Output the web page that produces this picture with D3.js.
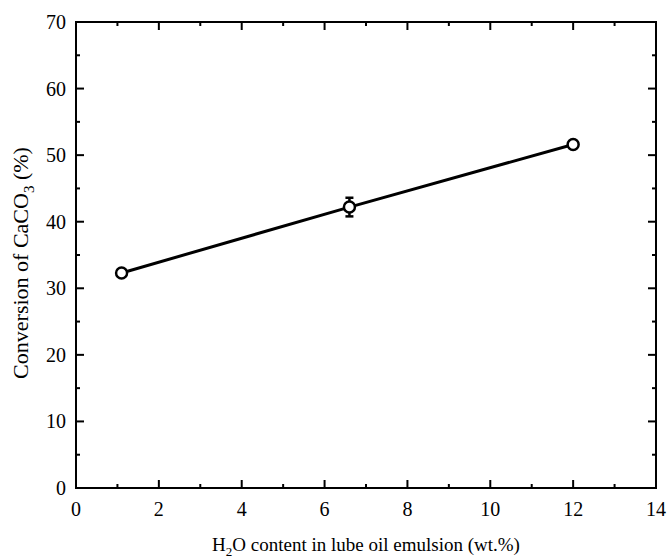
<!DOCTYPE html>
<html>
<head>
<meta charset="utf-8">
<script src="https://cdn.jsdelivr.net/npm/d3@7"></script>
<style>
  body { margin: 0; background: #fff; }
  text { font-family: "Liberation Serif", "Times New Roman", serif; }
</style>
</head>
<body>
<svg id="chart"></svg>
<script>
const waterContent = [1.1, 6.6, 12];
const conversion = [32.3, 42.2, 51.6];
const conversionErr = [0, 1.4, 0];
const xTicks = [0, 2, 4, 6, 8, 10, 12, 14];
const yTicks = [0, 10, 20, 30, 40, 50, 60, 70];

const width = 668, height = 558;
const margin = {top: 22, right: 12, bottom: 70, left: 76};

const svg = d3.select("#chart")
    .attr("width", width)
    .attr("height", height);

const x = d3.scaleLinear().domain([0, 14]).range([margin.left, width - margin.right]);
const y = d3.scaleLinear().domain([0, 70]).range([height - margin.bottom, margin.top]);

const data = waterContent.map((d, i) => ({x: d, y: conversion[i], e: conversionErr[i]}));

// minor ticks (inside)
const xMinor = d3.range(1, 14, 2);
const yMinor = d3.range(5, 70, 10);

const axes = svg.append("g").attr("stroke", "#000").attr("stroke-width", 2);

function ticksInside(g, scale, vals, len, orient) {
  vals.forEach(v => {
    if (orient === "bottom") g.append("line").attr("x1", scale(v)).attr("x2", scale(v)).attr("y1", y(0)).attr("y2", y(0) - len);
    if (orient === "top") g.append("line").attr("x1", scale(v)).attr("x2", scale(v)).attr("y1", y(70)).attr("y2", y(70) + len);
    if (orient === "left") g.append("line").attr("y1", scale(v)).attr("y2", scale(v)).attr("x1", x(0)).attr("x2", x(0) + len);
    if (orient === "right") g.append("line").attr("y1", scale(v)).attr("y2", scale(v)).attr("x1", x(14)).attr("x2", x(14) - len);
  });
}
ticksInside(axes, x, xTicks, 8, "bottom");
ticksInside(axes, x, xTicks, 8, "top");
ticksInside(axes, x, xMinor, 4, "bottom");
ticksInside(axes, x, xMinor, 4, "top");
ticksInside(axes, y, yTicks, 8, "left");
ticksInside(axes, y, yTicks, 8, "right");
ticksInside(axes, y, yMinor, 4, "left");
ticksInside(axes, y, yMinor, 4, "right");

axes.append("rect")
    .attr("x", x(0)).attr("y", y(70))
    .attr("width", x(14) - x(0)).attr("height", y(0) - y(70))
    .attr("fill", "none");

// tick labels
svg.append("g").selectAll("text")
  .data(xTicks)
  .join("text")
    .attr("x", d => x(d))
    .attr("y", y(0) + 28)
    .attr("text-anchor", "middle")
    .attr("font-size", 20)
    .text(d => d);

svg.append("g").selectAll("text")
  .data(yTicks)
  .join("text")
    .attr("x", x(0) - 10)
    .attr("y", d => y(d))
    .attr("dy", "0.35em")
    .attr("text-anchor", "end")
    .attr("font-size", 20)
    .text(d => d);

// axis titles
const xt = svg.append("text")
    .attr("x", (x(0) + x(14)) / 2)
    .attr("y", height - 7)
    .attr("text-anchor", "middle")
    .attr("font-size", 19);
xt.append("tspan").text("H");
xt.append("tspan").attr("font-size", 13).attr("dy", 5).text("2");
xt.append("tspan").attr("dy", -5).text("O content in lube oil emulsion (wt.%)");

const yt = svg.append("text")
    .attr("transform", `translate(28,${(y(0) + y(70)) / 2 + 8}) rotate(-90)`)
    .attr("text-anchor", "middle")
    .attr("font-size", 22);
yt.append("tspan").text("Conversion of CaCO");
yt.append("tspan").attr("font-size", 15).attr("dy", 6).text("3");
yt.append("tspan").attr("dy", -6).text(" (%)");

// line
svg.append("path")
    .datum(data)
    .attr("fill", "none")
    .attr("stroke", "#000")
    .attr("stroke-width", 3)
    .attr("d", d3.line().x(d => x(d.x)).y(d => y(d.y)));

// error bars
const eb = svg.append("g").attr("stroke", "#000").attr("stroke-width", 2.5);
data.filter(d => d.e > 0).forEach(d => {
  eb.append("line").attr("x1", x(d.x)).attr("x2", x(d.x)).attr("y1", y(d.y - d.e)).attr("y2", y(d.y + d.e));
  eb.append("line").attr("x1", x(d.x) - 4).attr("x2", x(d.x) + 4).attr("y1", y(d.y - d.e)).attr("y2", y(d.y - d.e));
  eb.append("line").attr("x1", x(d.x) - 4).attr("x2", x(d.x) + 4).attr("y1", y(d.y + d.e)).attr("y2", y(d.y + d.e));
});

// markers
svg.append("g").selectAll("circle")
  .data(data)
  .join("circle")
    .attr("cx", d => x(d.x))
    .attr("cy", d => y(d.y))
    .attr("r", 5.5)
    .attr("fill", "#fff")
    .attr("stroke", "#000")
    .attr("stroke-width", 2.5);
</script>
</body>
</html>
